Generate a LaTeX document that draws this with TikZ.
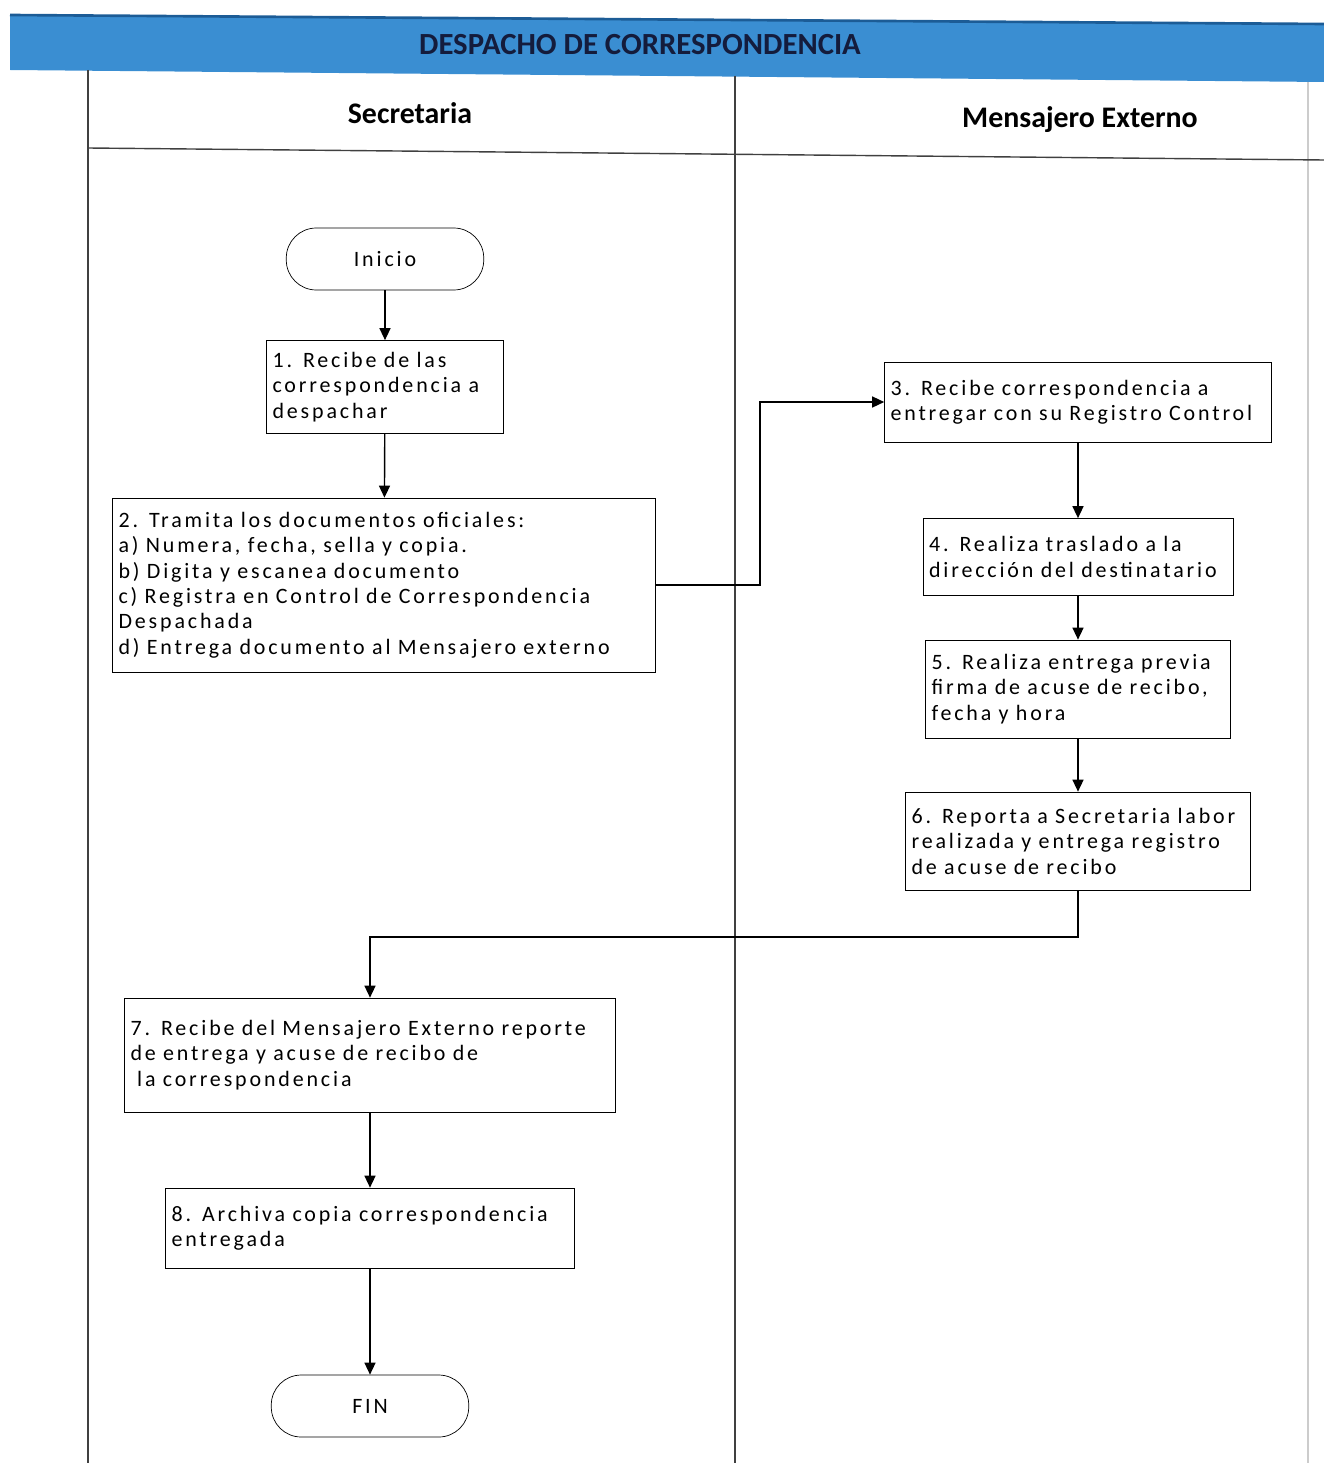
\documentclass[tikz,border=0pt]{standalone}
\usepackage{fontspec}
\setmainfont{Carlito}
\newfontfamily\boxfont[LetterSpace=13]{Carlito}
\usetikzlibrary{arrows.meta}
\definecolor{bandblue}{RGB}{58,142,210}
\definecolor{banddark}{RGB}{28,92,150}
\definecolor{titleink}{RGB}{20,28,60}
\tikzset{
  block/.style={draw, rectangle, fill=white, align=left, inner xsep=0.12cm, inner ysep=0.15cm,
    font=\boxfont\fontsize{12.5}{14.5}\selectfont},
  term/.style={draw, rectangle, rounded corners=0.6cm, fill=white,
    minimum width=3.95cm, minimum height=1.24cm,
    font=\boxfont\fontsize{12.5}{14.5}\selectfont},
  lanehead/.style={font=\bfseries\fontsize{17}{20}\selectfont},
  lanerule/.style={draw=black!75, line width=0.8pt},
  flow/.style={draw, line width=0.8pt, -{Triangle[length=0.24cm,width=0.22cm]}}
}

\begin{document}
\begin{tikzpicture}[x=0.02cm,y=-0.02cm]
\useasboundingbox (0,0) rectangle (1324,1463);

% header band
\fill[bandblue] (10,15) -- (1324,24) -- (1324,82) -- (10,70) -- cycle;
\draw[banddark, line width=1.5pt] (10,15) -- (1324,24);
\node[name=title, font=\bfseries\fontsize{17.5}{20}\selectfont, text=titleink] at (640,45) {DESPACHO DE CORRESPONDENCIA};

% lanes
\draw[lanerule] (88,70) -- (88,1463);
\draw[lanerule] (735,76) -- (735,1463);
\draw[draw=black!20, line width=0.6pt] (1308,82) -- (1308,1463);
\draw[lanerule] (88,148) -- (1324,160);
\node[lanehead, name=secretaria] at (410,113) {Secretaria};
\node[lanehead, name=mensajero] at (1080,120) {Mensajero Externo};

% steps
\node[term, name=inicio] at (385,259) {Inicio};
\node[block, name=box1, text width=4.5cm, minimum height=1.86cm] at (385,387) {1. Recibe de las\\correspondencia a\\despachar};
\node[block, name=box2, text width=10.62cm, minimum height=3.48cm] at (384,585) {2. Tramita los documentos oficiales:\\a) Numera, fecha, sella y copia.\\b) Digita y escanea documento\\c) Registra en Control de Correspondencia\\Despachada\\d) Entrega documento al Mensajero externo};
\node[block, name=box3, text width=7.5cm, minimum height=1.6cm] at (1078,402) {3. Recibe correspondencia a\\entregar con su Registro Control};
\node[block, name=box4, text width=5.96cm, minimum height=1.54cm] at (1078,557) {4. Realiza traslado a la\\direcci\'on del destinatario};
\node[block, name=box5, text width=5.86cm, minimum height=1.96cm] at (1078,689) {5. Realiza entrega previa\\firma de acuse de recibo,\\fecha y hora};
\node[block, name=box6, text width=6.66cm, minimum height=1.96cm] at (1078,841) {6. Reporta a Secretaria labor\\realizada y entrega registro\\de acuse de recibo};
\node[block, name=box7, text width=9.58cm, minimum height=2.28cm] at (370,1055) {7. Recibe del Mensajero Externo reporte\\de entrega y acuse de recibo de\\\hspace{0.3em}la correspondencia};
\node[block, name=box8, text width=7.94cm, minimum height=1.6cm] at (370,1228) {8. Archiva copia correspondencia\\entregada};
\node[term, name=fin] at (370,1406) {FIN};

\coordinate (j1) at (760,500);
\coordinate (j2) at (700,937);

% connectors
\draw[flow] (inicio) -- (box1);
\draw[flow] (box1) -- (box2);
\draw[flow] (box2.east) -- (box2.east -| j1) |- (box3.west);
\draw[flow] (box3) -- (box4);
\draw[flow] (box4) -- (box5);
\draw[flow] (box5) -- (box6);
\draw[flow] (box6.south) -- (box6.south |- j2) -| (box7.north);
\draw[flow] (box7) -- (box8);
\draw[flow] (box8) -- (fin);

\end{tikzpicture}
\end{document}
